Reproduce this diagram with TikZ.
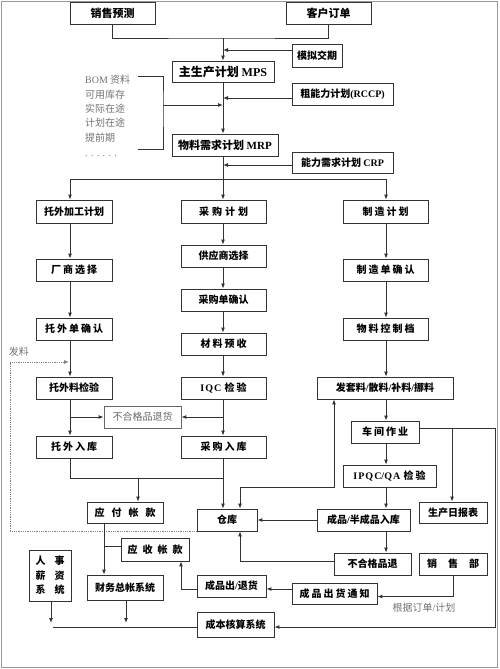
\documentclass[tikz,border=0pt]{standalone}
\usepackage{fontspec}
\setmainfont{Liberation Serif}
\newfontfamily\cjk{Noto Sans CJK SC}
\newfontfamily\lat{Liberation Serif}
\usetikzlibrary{arrows.meta,calc}
\newcommand{\myg}[1]{\hspace{#1pt}}
\begin{document}
\begin{tikzpicture}[x=1pt,y=-1pt,
  box/.style={draw=black!80, line width=0.8pt, inner sep=0pt, align=center,
    font=\cjk\bfseries\fontsize{10}{12}\selectfont},
  fa/.style={font=\cjk\bfseries\fontsize{11}{13}\selectfont},
  fb/.style={font=\cjk\bfseries\fontsize{12}{14}\selectfont},
  graytxt/.style={text=black!55, inner sep=0pt, font=\cjk\fontsize{10}{12}\selectfont},
  ln/.style={draw=black!80, line width=0.9pt},
  arr/.style={ln, -{Latex[length=5pt,width=4pt]}},
  arrtwo/.style={ln, {Latex[length=5pt,width=4pt]}-{Latex[length=5pt,width=4pt]}}
]
\useasboundingbox (0,0) rectangle (500,669);
\draw[black!40, line width=1.5pt] (1.5,1.5) rectangle (497.5,667.5);

% ---- nodes
\node[box,fa,minimum width=85,minimum height=22] (xsyc) at (112.5,13) {销售预测};
\node[box,fa,minimum width=85,minimum height=22] (khdd) at (328.5,13) {客户订单};
\node[box,minimum width=50,minimum height=23] (mnjq) at (317,55.5) {模拟交期};
\node[box,fb,minimum width=102,minimum height=21] (mps) at (223,71.5) {主生产计划 {\lat MPS}};
\node[box,minimum width=101,minimum height=22] (rccp) at (342.5,94) {粗能力计划{\lat (RCCP)}};
\node[box,fa,minimum width=106,minimum height=22] (mrp) at (225,145) {物料需求计划 {\lat MRP}};
\node[box,minimum width=101,minimum height=21] (crp) at (342.5,162.5) {能力需求计划 {\lat CRP}};

\node[box,minimum width=76,minimum height=23] (twjg) at (74,211.5) {托外加工计划};
\node[box,minimum width=85,minimum height=23] (cgjh) at (223.5,211.5) {采\myg3购\myg3计\myg3划};
\node[box,minimum width=85,minimum height=23] (zzjh) at (385.5,211.5) {制\myg2造\myg2计\myg2划};

\node[box,minimum width=76,minimum height=22] (csxz) at (74,270) {厂\myg2商\myg2选\myg2择};
\node[box,minimum width=85,minimum height=22] (gysxz) at (223.5,256) {供应商选择};
\node[box,minimum width=85,minimum height=22] (zzdqr) at (385.5,270) {制\myg2造\myg2单\myg2确\myg2认};
\node[box,minimum width=85,minimum height=22] (cgdqr) at (223.5,300) {采购单确认};
\node[box,minimum width=76,minimum height=22] (twdqr) at (74,329) {托\myg2外\myg2单\myg2确\myg2认};
\node[box,minimum width=85,minimum height=22] (wlkzd) at (385.5,329) {物\myg2料\myg2控\myg2制\myg2档};
\node[box,minimum width=85,minimum height=22] (clys) at (223.5,344) {材\myg2料\myg2预\myg2收};

\node[box,minimum width=76,minimum height=22] (twljy) at (74,388) {托外料检验};
\node[box,minimum width=85,minimum height=22] (iqc) at (223.5,388) {{\lat I\myg1Q\myg1C} \myg1检\myg2验};
\node[box,minimum width=136,minimum height=22] (fatao) at (385,388) {发套料{\lat /}散料{\lat /}补料{\lat /}挪料};
\node[box,graytxt,text=black!60,draw=black!60,minimum width=77,minimum height=22] (bhg1) at (142.5,417) {不合格品退货};

\node[box,minimum width=76,minimum height=22] (twrk) at (74,447) {托\myg2外\myg2入\myg2库};
\node[box,minimum width=85,minimum height=22] (cgrk) at (223.5,447) {采\myg2购\myg2入\myg2库};
\node[box,minimum width=68,minimum height=22] (cjzy) at (385,432) {车\myg2间\myg2作\myg2业};
\node[box,minimum width=93,minimum height=22] (ipqc) at (389.5,476) {{\lat I\myg1P\myg1Q\myg1C/Q\myg1A} \myg1检\myg2验};

\node[box,minimum width=76,minimum height=21] (yfzk) at (125,512.5) {应\myg7付\myg7帐\myg7款};
\node[box,minimum width=60,minimum height=22] (cangku) at (227,520) {仓库};
\node[box,minimum width=93,minimum height=22] (cpbcp) at (363.5,520) {成品{\lat /}半成品入库};
\node[box,minimum width=68,minimum height=21] (scrb) at (453,512.5) {生产日报表};

\node[box,minimum width=68,minimum height=23] (yszk) at (155,549.5) {应\myg5收\myg5帐\myg5款};
\node[box,minimum width=77,minimum height=22] (bhg2) at (372.5,564) {不合格品退};
\node[box,minimum width=68,minimum height=22] (xsb) at (453,564) {销\myg{11}售\myg{11}部};

\node[box,minimum width=42,minimum height=51,font=\cjk\bfseries\fontsize{10}{14.5}\selectfont] (rsxz) at (50,575.5) {人\myg9事\\薪\myg9资\\系\myg9统};
\node[box,minimum width=76,minimum height=25] (cwzz) at (125,587.5) {财务总帐系统};
\node[box,minimum width=69,minimum height=22] (cpct) at (231.5,586) {成品出{\lat /}退货};
\node[box,minimum width=85,minimum height=21] (cpchtz) at (334.5,593.5) {成\myg2品\myg2出\myg2货\myg2通\myg2知};
\node[box,minimum width=77,minimum height=25] (cbhs) at (235.5,624.5) {成本核算系统};

% gray labels
\node[graytxt,anchor=base west] (bom1) at (85,84) {{\lat BOM} 资料};
\node[graytxt,anchor=base west] (bom2) at (85,98.3) {可用库存};
\node[graytxt,anchor=base west] (bom3) at (85,112.6) {实际在途};
\node[graytxt,anchor=base west] (bom4) at (85,126.9) {计划在途};
\node[graytxt,anchor=base west] (bom5) at (85,141.2) {提前期};
\node[graytxt,anchor=base west] (bom6) at (85,156) {{\lat . . . . . .}};
\node[graytxt] (fltxt) at (19,352) {发料};
\node[graytxt] (gjdd) at (424,608) {根据订单{\lat /}计划};

% ---- coordinates
\coordinate (cA) at (70,0);
\coordinate (cB) at (223,0);
\coordinate (cC) at (386,0);
\coordinate (jn) at (223,38);
\coordinate (m1) at ([yshift=5.5pt]mnjq.west);
\coordinate (m2) at ([yshift=-4pt]rccp.west);
\coordinate (m3) at ([yshift=-2.5pt]crp.west);
\coordinate (b1) at (138,76);
\coordinate (b2) at (138,149);
\coordinate (b3) at (163,105);
\coordinate (br) at (223,179);
\coordinate (fl) at (10,362);
\coordinate (j2) at (138,478);
\coordinate (j3) at (240,487);
\coordinate (j4) at (334,487);
\coordinate (q1) at ([yshift=3pt]bhg2.west);
\coordinate (r1) at ([yshift=4pt]cjzy.east);
\coordinate (r2) at (495,428);
\coordinate (r3) at (452,428);
\coordinate (r4) at ([yshift=-2.5pt]cbhs.east);
\coordinate (s1) at ([yshift=-3pt]cpchtz.east);
\coordinate (s2) at ([yshift=4.5pt]cpchtz.west);
\coordinate (s3) at ([yshift=-3pt]cpct.west);
\coordinate (s4) at (181,0);
\coordinate (t1) at (104,546);
\coordinate (u1) at (51,627);
\coordinate (u2) at (126,627);

% ---- connectors
\draw[ln] (xsyc.south) |- (jn) -| (khdd.south);
\draw[arr] (jn) -- (mps.north -| jn);
\draw[arr] (m1) -- (m1 -| cB);
\draw[arr] (mps.south) -- (mrp.north -| mps.south);
\draw[arr] (m2) -- (m2 -| cB);
\draw[ln] (b1) -| (b3) |- (b2);
\draw[arr] (b3) -- (b3 -| cB);
\draw[arr] (m3) -- (m3 -| cB);

\draw[ln] (mrp.south -| cB) -- (br);
\draw[arr] (br) -- (cgjh.north -| cB);
\draw[arr] (br) -| (twjg.north -| cA);
\draw[arr] (br) -| (zzjh.north -| cC);

\foreach \a/\b in {twjg/csxz, csxz/twdqr, twdqr/twljy, twljy/twrk}
  \draw[arr] (\a.south -| cA) -- (\b.north -| cA);
\foreach \a/\b in {cgjh/gysxz, gysxz/cgdqr, cgdqr/clys, clys/iqc, iqc/cgrk}
  \draw[arr] (\a.south -| cB) -- (\b.north -| cB);
\foreach \a/\b in {zzjh/zzdqr, zzdqr/wlkzd, wlkzd/fatao, fatao/cjzy, cjzy/ipqc, ipqc/cpbcp, cpbcp/bhg2}
  \draw[arr] (\a.south -| cC) -- (\b.north -| cC);

\draw[arr] (cA |- bhg1.west) -- (bhg1.west);
\draw[arr] (cB |- bhg1.east) -- (bhg1.east);

\draw[black!50, densely dotted, line width=0.8pt, -{Latex[length=5pt,width=4pt]}]
  (cangku.south west) -| (fl) -- ([xshift=-1pt]fl -| cA);

\draw[ln] (twrk.south -| cA) |- (j2 -| cB);
\draw[arr] (j2) -- (yfzk.north -| j2);
\draw[arr] (cgrk.south -| cB) -- (cangku.north -| cB);
\draw[arrtwo] (cangku.north -| j3) -- (j3) -- (j4) -- (fatao.south -| j4);
\draw[arr] (cpbcp.west) -- (cangku.east);
\draw[arr] (q1) -| (cangku.south -| j3);

\draw[arr] (r1) -- (r2) |- (r4);
\draw[arr] (r3) -- (scrb.north -| r3);

\draw[arr] (xsb.south) |- (s1);
\draw[arr] (s2) -- (s2 -| cpct.east);
\draw[arr] (s3) -| (yszk.south -| s4);

\draw[arr] (yfzk.south -| t1) -- (cwzz.north -| t1);
\draw[ln] (t1) -- (yszk.west |- t1);

\draw[arr] (rsxz.south -| u1) -- ([yshift=4pt]u1);
\draw[arr] (cwzz.south -| u2) -- ([yshift=4pt]u2);
\draw[ln] ([xshift=2pt]u1) -- (cbhs.west |- u1);
\end{tikzpicture}
\end{document}
